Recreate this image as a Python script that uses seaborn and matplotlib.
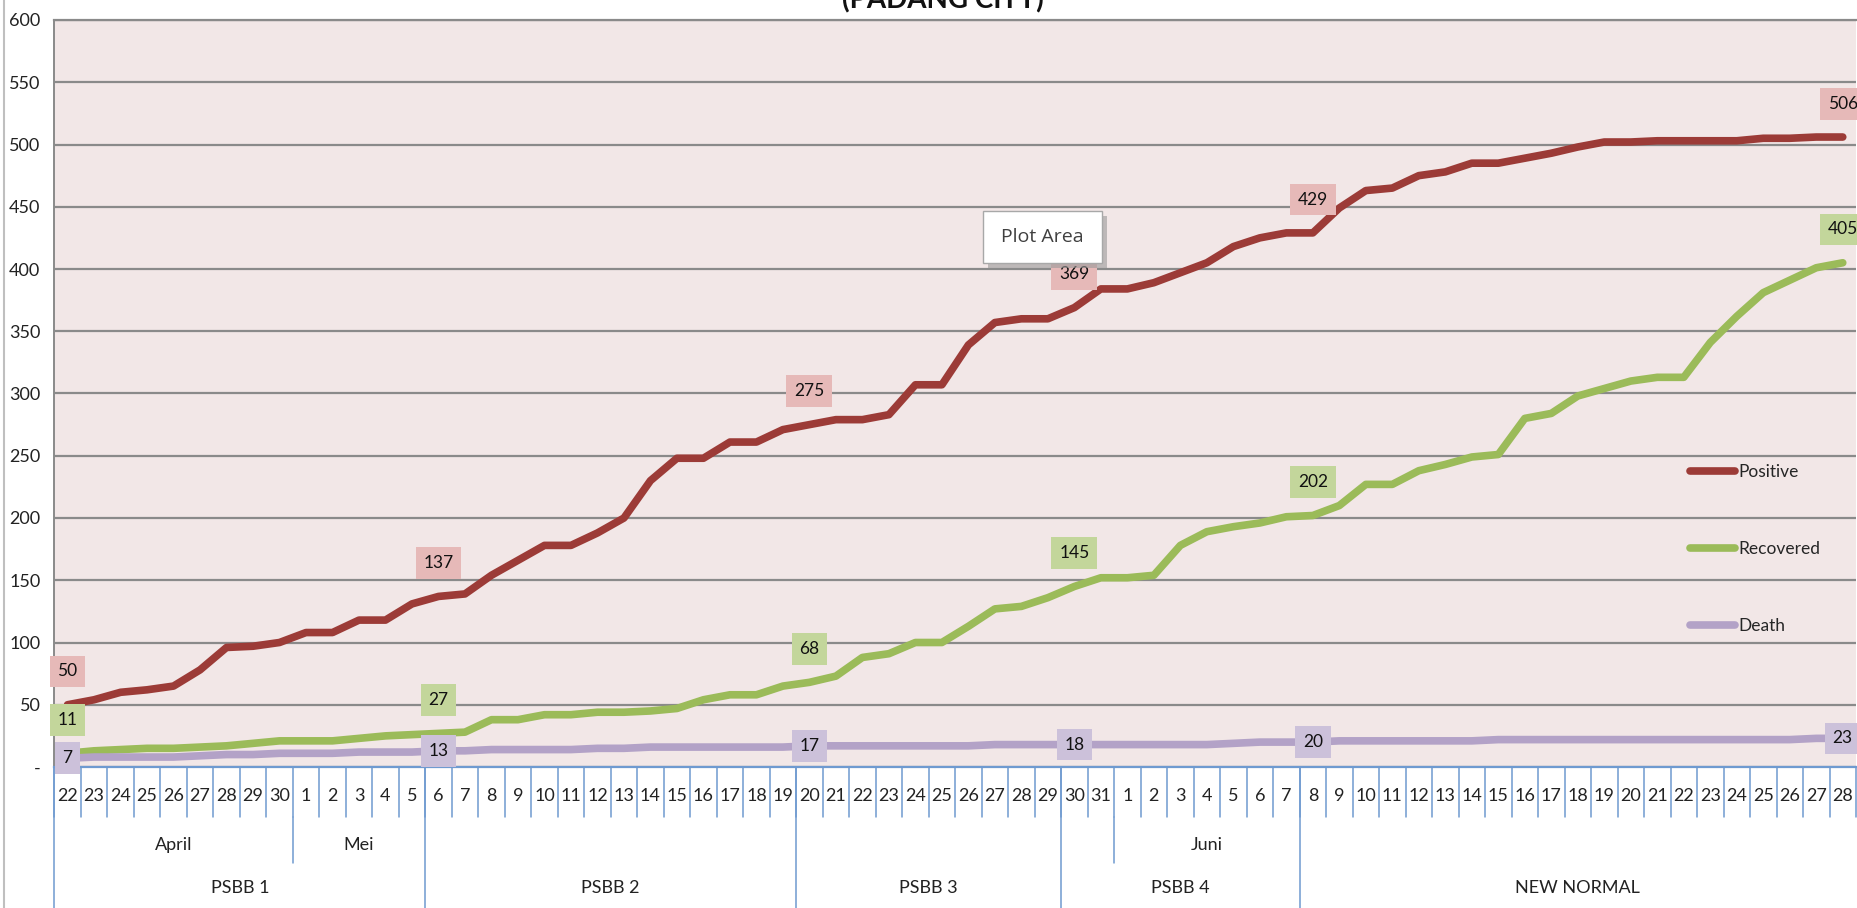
import numpy as np
import pandas as pd
import seaborn as sns
import matplotlib.pyplot as plt
import matplotlib.transforms as mtransforms
from matplotlib.lines import Line2D
from matplotlib.patches import Rectangle

# Data: daily cumulative cases, 22 April - 28 June
days = [str(d) for d in list(range(22, 31)) + list(range(1, 32)) + list(range(1, 29))]
positive = [50, 54, 60, 62, 65, 78, 96, 97, 100, 108, 108, 118, 118, 131, 137, 139,
            154, 166, 178, 178, 188, 200, 230, 248, 248, 261, 261, 271, 275, 279,
            279, 283, 307, 307, 339, 357, 360, 360, 369, 384, 384, 389, 397, 405,
            418, 425, 429, 429, 449, 463, 465, 475, 478, 485, 485, 489, 493, 498,
            502, 502, 503, 503, 503, 503, 505, 505, 506, 506]
recovered = [11, 13, 14, 15, 15, 16, 17, 19, 21, 21, 21, 23, 25, 26, 27, 28,
             38, 38, 42, 42, 44, 44, 45, 47, 54, 58, 58, 65, 68, 73, 88, 91,
             100, 100, 113, 127, 129, 136, 145, 152, 152, 154, 178, 189, 193, 196,
             201, 202, 210, 227, 227, 238, 243, 249, 251, 280, 284, 298, 304, 310,
             313, 313, 341, 362, 381, 391, 401, 405]
death = [7, 8, 8, 8, 8, 9, 10, 10, 11, 11, 11, 12, 12, 12, 13, 13,
         14, 14, 14, 14, 15, 15, 16, 16, 16, 16, 16, 16, 17, 17, 17, 17,
         17, 17, 17, 18, 18, 18, 18, 18, 18, 18, 18, 18, 19, 20, 20, 20,
         21, 21, 21, 21, 21, 21, 22, 22, 22, 22, 22, 22, 22, 22, 22, 22,
         22, 22, 23, 23]
label_idx = [0, 14, 28, 38, 47, 67]

phases = ['PSBB 1', 'PSBB 2', 'PSBB 3', 'PSBB 4', 'NEW NORMAL']
phase_len = [14, 14, 10, 9, 21]
months = ['April', 'Mei', 'Juni']
month_span = [(0, 8), (9, 13), (40, 46)]
month_breaks = [8.5, 39.5]

df = pd.DataFrame({'day': range(len(days)), 'Positive': positive,
                   'Recovered': recovered, 'Death': death})
long = df.melt(id_vars='day', var_name='status', value_name='cases')

colors = {'Positive': '#9C3B37', 'Recovered': '#9BBB59', 'Death': '#B3A2C7'}
box_colors = {'Positive': '#E6B9B8', 'Recovered': '#C3D69B', 'Death': '#CCC1DA'}
blue = '#6F9AD0'
grey = '#8A8A8A'

sns.set_style('white')
plt.rcParams['font.family'] = ['Lato', 'DejaVu Sans']

W, H = 1858, 908
fig = plt.figure(figsize=(W / 100, H / 100), dpi=100)
y_axis = 767
y_top = 20
ax = fig.add_axes([54.3 / W, (H - y_axis) / H, (1856 - 54.3) / W, (y_axis - y_top) / H])
ax.set_facecolor('#F2E7E7')

sns.lineplot(data=long, x='day', y='cases', hue='status', palette=colors,
             linewidth=5.5, ax=ax)

ax.set_xlim(-0.5, len(days) - 0.5)
ax.set_ylim(0, 600)
ax.set_yticks(range(0, 601, 50))
ax.set_yticklabels(['-'] + [str(v) for v in range(50, 601, 50)])
ax.grid(axis='y', color=grey, lw=1.6)
ax.grid(axis='x', visible=False)
ax.set_axisbelow(True)
ax.set_xlabel('')
ax.set_ylabel('')

ax.spines['right'].set_visible(False)
ax.spines['top'].set_color(grey)
ax.spines['top'].set_linewidth(1.6)
ax.spines['left'].set_color(grey)
ax.spines['left'].set_linewidth(1.4)
ax.spines['bottom'].set_color(blue)
ax.spines['bottom'].set_linewidth(1.6)

ax.tick_params(axis='y', length=7, width=1.2, color=grey, pad=3,
               labelsize=13, labelcolor='#222222')
ax.set_xticks(range(len(days)))
ax.set_xticklabels(days)
ax.tick_params(axis='x', which='major', direction='in', length=3.5, width=1,
               color=blue, pad=15, labelsize=13, labelcolor='#222222')
ax.set_xticks(np.arange(-0.5, len(days), 1), minor=True)
ax.tick_params(axis='x', which='minor', direction='in', length=6.5, width=1,
               color=blue)

# multi-level category separators and labels
blend = mtransforms.blended_transform_factory(ax.transData, fig.transFigure)
fy = lambda py: 1 - py / H
for b in np.arange(-0.5, len(days), 1):
    ax.plot([b, b], [fy(y_axis), fy(817)], transform=blend, clip_on=False,
            color=blue, lw=1.1)
for b in month_breaks:
    ax.plot([b, b], [fy(817), fy(863)], transform=blend, clip_on=False,
            color=blue, lw=1.1)
start = 0
for name, n in zip(phases, phase_len):
    ax.plot([start - 0.5, start - 0.5], [fy(y_axis), 0], transform=blend,
            clip_on=False, color=blue, lw=1.1)
    ax.text(start + (n - 1) / 2, fy(888), name, transform=blend, ha='center',
            va='center', fontsize=13, color='#222222')
    start += n
for name, (a, b) in zip(months, month_span):
    ax.text((a + b) / 2, fy(845), name, transform=blend, ha='center',
            va='center', fontsize=13, color='#222222')

# data labels
series = {'Positive': positive, 'Recovered': recovered, 'Death': death}
for name, vals in series.items():
    off = 0 if name == 'Death' else 24
    for i in label_idx:
        ax.annotate(str(vals[i]), (i, vals[i]), xytext=(0, off),
                    textcoords='offset points', ha='center', va='center',
                    fontsize=12.5, color='#111111', zorder=6, annotation_clip=False,
                    bbox=dict(boxstyle='square,pad=0.45', fc=box_colors[name], ec='none'))

handles, labels = ax.get_legend_handles_labels()
ax.legend(handles, labels, loc='upper left', bbox_to_anchor=(0.908, 0.405),
          frameon=False, handlelength=2.6, labelspacing=3.5, fontsize=12.5,
          handletextpad=0.2, borderpad=0, borderaxespad=0)

# "Plot Area" tooltip
fig.add_artist(Rectangle(((983 + 5) / W, fy(263 + 5)), 119 / W, 52 / H,
                         transform=fig.transFigure, fc='#9A9A9A', ec='none',
                         alpha=0.6, zorder=9))
fig.add_artist(Rectangle((983 / W, fy(263)), 119 / W, 52 / H,
                         transform=fig.transFigure, fc='white', ec='#A8A8A8',
                         lw=1, zorder=10))
fig.text(1042 / W, fy(237), 'Plot Area', ha='center', va='center', fontsize=14,
         color='#404040', zorder=11, family=['Open Sans', 'DejaVu Sans'])

# chart border and clipped title
fig.add_artist(Line2D([4 / W, 4 / W], [0, 1], color='#BFBFBF', lw=1.5))
fig.text(0.5077, fy(8), '(PADANG CITY)', ha='center', va='baseline',
         fontsize=20, fontweight='bold', color='#111111')

fig.savefig('out.png', dpi=100)
